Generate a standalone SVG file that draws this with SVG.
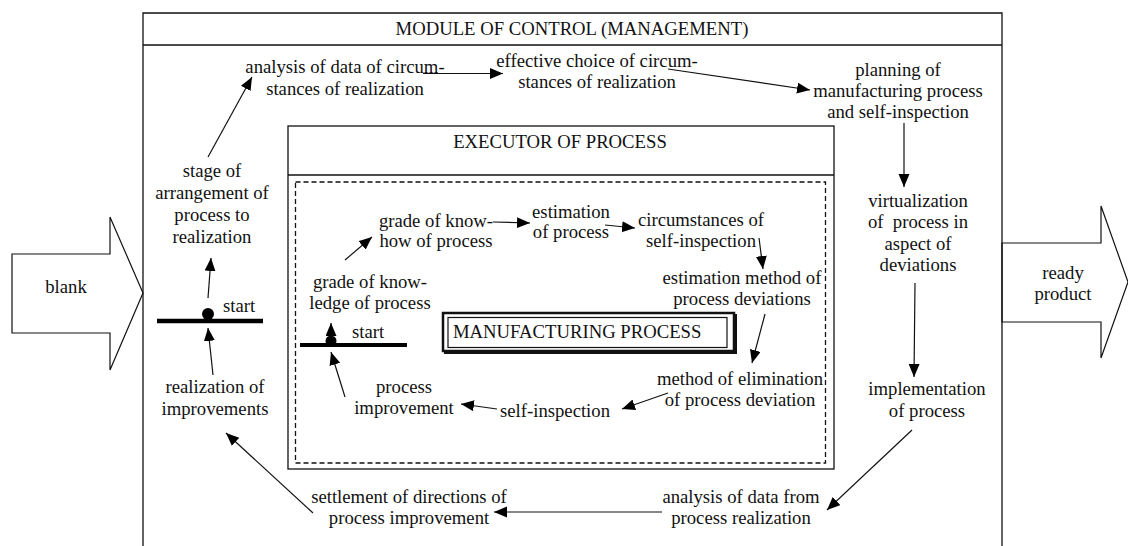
<svg xmlns="http://www.w3.org/2000/svg" width="1128" height="546" viewBox="0 0 1128 546">
  <style>
    text { font-family: "Liberation Serif", "Times New Roman", serif; font-size: 18.7px; fill: #111; }
    .c { text-anchor: middle; }
    .frame { fill: none; stroke: #111; stroke-width: 1.3; }
    .dash { fill: none; stroke: #111; stroke-width: 1.3; stroke-dasharray: 5 3; }
    .link { fill: none; stroke: #111; stroke-width: 1.2; marker-end: url(#ah); }
    .bar { stroke: #000; stroke-width: 4.5; }
    .big { fill: #fff; stroke: #111; stroke-width: 1.2; }
  </style>
  <defs>
    <marker id="ah" markerUnits="userSpaceOnUse" markerWidth="14" markerHeight="12" refX="13" refY="5.5" orient="auto">
      <path d="M0,0 L13,5.5 L0,11 z" fill="#000"/>
    </marker>
  </defs>

  <rect width="1128" height="546" fill="#fff"/>

  <!-- input / output arrows -->
  <g id="blank">
    <polygon class="big" points="12,254 110,254 110,217 143,293 110,370 110,333 12,333"/>
    <text class="c" x="66" y="293">blank</text>
  </g>
  <g id="ready-product">
    <polygon class="big" points="1002,243 1101,243 1101,206 1128,282 1101,358 1101,322 1002,322"/>
    <text class="c" x="1063"><tspan x="1063" y="279">ready</tspan><tspan x="1063" y="300">product</tspan></text>
  </g>

  <!-- control module frame -->
  <g id="module">
    <path class="frame" d="M143,546 V13 H1002 V546"/>
    <path class="frame" d="M143,45 H1002"/>
    <text class="c" x="572" y="35">MODULE OF CONTROL (MANAGEMENT)</text>
  </g>

  <!-- executor frame -->
  <g id="executor">
    <rect class="frame" x="288" y="126" width="546" height="343"/>
    <path class="frame" d="M288,175 H834"/>
    <text class="c" x="560" y="148">EXECUTOR OF PROCESS</text>
    <rect class="dash" x="295.5" y="182" width="530" height="281"/>
  </g>

  <g id="manufacturing-process">
    <rect x="443" y="313" width="291" height="38" fill="#fff" stroke="#111" stroke-width="2.5"/>
    <path d="M736,314 V353 H444" fill="none" stroke="#111" stroke-width="2"/>
    <rect x="448" y="317.5" width="279" height="30" fill="none" stroke="#111" stroke-width="1.2"/>
    <text x="453" y="338">MANUFACTURING PROCESS</text>
  </g>

  <!-- control loop nodes -->
  <g id="analysis-circumstances">
    <text class="c"><tspan x="345" y="73">analysis of data of circum-</tspan><tspan x="345" y="95">stances of realization</tspan></text>
  </g>
  <g id="effective-choice">
    <text class="c"><tspan x="597" y="67">effective choice of circum-</tspan><tspan x="597" y="88">stances of realization</tspan></text>
  </g>
  <g id="planning">
    <text class="c"><tspan x="898" y="76">planning of</tspan><tspan x="898" y="97">manufacturing process</tspan><tspan x="898" y="118">and self-inspection</tspan></text>
  </g>
  <g id="virtualization">
    <text class="c"><tspan x="918" y="207">virtualization</tspan><tspan x="918" y="228">of&#160; process in</tspan><tspan x="918" y="250">aspect of</tspan><tspan x="918" y="271">deviations</tspan></text>
  </g>
  <g id="implementation">
    <text class="c"><tspan x="927" y="395">implementation</tspan><tspan x="927" y="417">of process</tspan></text>
  </g>
  <g id="analysis-realization">
    <text class="c"><tspan x="741" y="503">analysis of data from</tspan><tspan x="741" y="524">process realization</tspan></text>
  </g>
  <g id="settlement">
    <text class="c"><tspan x="409" y="503">settlement of directions of</tspan><tspan x="409" y="524">process improvement</tspan></text>
  </g>
  <g id="realization-improvements">
    <text class="c"><tspan x="215" y="393">realization of</tspan><tspan x="215" y="415">improvements</tspan></text>
  </g>
  <g id="stage">
    <text class="c"><tspan x="212" y="177">stage of</tspan><tspan x="212" y="199">arrangement of</tspan><tspan x="212" y="221">process to</tspan><tspan x="212" y="243">realization</tspan></text>
  </g>
  <g id="start-outer">
    <line class="bar" x1="157" y1="321" x2="263" y2="321"/>
    <circle cx="208" cy="314" r="6" fill="#000"/>
    <text x="223" y="312">start</text>
  </g>

  <!-- executor loop nodes -->
  <g id="know-how">
    <text class="c"><tspan x="436" y="227">grade of know-</tspan><tspan x="436" y="247">how of process</tspan></text>
  </g>
  <g id="estimation">
    <text class="c"><tspan x="571" y="218">estimation</tspan><tspan x="571" y="238">of process</tspan></text>
  </g>
  <g id="circumstances">
    <text class="c"><tspan x="701" y="226">circumstances of</tspan><tspan x="701" y="247">self-inspection</tspan></text>
  </g>
  <g id="estimation-method">
    <text class="c"><tspan x="742" y="284">estimation method of</tspan><tspan x="742" y="305">process deviations</tspan></text>
  </g>
  <g id="elimination">
    <text class="c"><tspan x="740" y="385">method of elimination</tspan><tspan x="740" y="406">of process deviation</tspan></text>
  </g>
  <g id="self-inspection">
    <text class="c" x="555" y="417">self-inspection</text>
  </g>
  <g id="process-improvement">
    <text class="c"><tspan x="404" y="393">process</tspan><tspan x="404" y="414">improvement</tspan></text>
  </g>
  <g id="knowledge">
    <text class="c"><tspan x="370" y="288">grade of know-</tspan><tspan x="370" y="309">ledge of process</tspan></text>
  </g>
  <g id="start-inner">
    <line class="bar" x1="300" y1="345" x2="407" y2="345" style="stroke-width:4"/>
    <circle cx="331" cy="341" r="5.5" fill="#000"/>
    <text x="352" y="338">start</text>
  </g>

  <!-- connectors -->
  <g id="connectors">
    <line class="link" x1="208" y1="157" x2="252" y2="77"/>
    <line class="link" x1="423" y1="73.5" x2="503" y2="73.5"/>
    <line class="link" x1="668" y1="69" x2="810" y2="90"/>
    <line class="link" x1="904" y1="123" x2="904" y2="187"/>
    <line class="link" x1="915" y1="283" x2="914" y2="377"/>
    <line class="link" x1="912" y1="430" x2="827" y2="510"/>
    <line class="link" x1="662" y1="512" x2="494" y2="512"/>
    <line class="link" x1="313" y1="513" x2="226" y2="433"/>
    <line class="link" x1="213" y1="375" x2="208" y2="328"/>
    <line class="link" x1="208" y1="298" x2="211" y2="258"/>
    <line class="link" x1="345" y1="260" x2="372" y2="237"/>
    <line class="link" x1="493" y1="222" x2="530" y2="223"/>
    <line class="link" x1="605" y1="225" x2="635" y2="228"/>
    <line class="link" x1="759" y1="238" x2="763" y2="269"/>
    <line class="link" x1="765" y1="314" x2="752" y2="363"/>
    <line class="link" x1="668" y1="393" x2="622" y2="409"/>
    <line class="link" x1="497" y1="409" x2="461" y2="404"/>
    <line class="link" x1="345" y1="397" x2="331" y2="352"/>
    <line class="link" x1="331" y1="336" x2="331" y2="323"/>
  </g>
</svg>
